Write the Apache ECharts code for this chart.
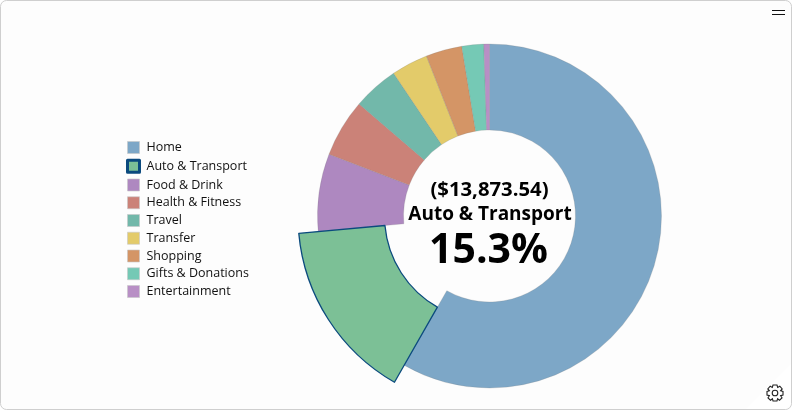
<!DOCTYPE html>
<html><head><meta charset="utf-8">
<style>html,body{margin:0;padding:0;background:#fff}#c{width:792px;height:410px}</style>
<script src="https://cdn.jsdelivr.net/npm/echarts@6/dist/echarts.min.js"></script>
</head><body><div id="c"></div>
<script>
const categories = ["Home","Auto & Transport","Food & Drink","Health & Fitness","Travel","Transfer","Shopping","Gifts & Donations","Entertainment"];
const amounts = [52860,13873.54,6620,4940,3890,3120,3080,1860,480];
const colors = ["#7da7c7","#7cc096","#ae88c0","#cb8278","#72b8aa","#e3cb6a","#d49566","#75c9b5","#b88fc5"];
const selectedIndex = 1;
const selectedBorder = "#0b4a7e";
const FONT = '"Open Sans","Noto Sans",sans-serif';

const total = amounts.reduce((a,b)=>a+b,0);
const selAmount = "($" + amounts[selectedIndex].toLocaleString("en-US",{minimumFractionDigits:2}) + ")";
const selPct = (amounts[selectedIndex]/total*100).toFixed(1) + "%";

const chart = echarts.init(document.getElementById("c"),null,{renderer:"canvas"});
const gearPts = [[-2,-8],[2,-8],[2.7,-5.6],[4.8,-6.8],[7.2,-4.1],[5.6,-2.2],[8,-1.6],[8,2],[5.6,2.6],[7,4.8],[4.5,7.2],[2.6,5.7],[2,8],[-2,8],[-2.6,5.7],[-4.5,7.2],[-7,4.8],[-5.6,2.6],[-8,2],[-8,-1.6],[-5.6,-2.2],[-7.2,-4.1],[-4.8,-6.8],[-2.7,-5.6]];
chart.setOption({
  animation:false,
  backgroundColor:"#ffffff",
  graphic:[
    {type:"rect",z:-10,shape:{x:0.5,y:0.5,width:791,height:409,r:6},style:{fill:"#fdfdfd",stroke:"#cfcfcf",lineWidth:1}},
    {type:"polygon",z:-9,shape:{points:[[746,409],[791,364],[791,404],[786,409]]},style:{fill:"#ffffff"}},
    {type:"line",shape:{x1:772,y1:10.5,x2:785,y2:10.5},style:{stroke:"#111",lineWidth:1}},
    {type:"line",shape:{x1:772,y1:14.5,x2:785,y2:14.5},style:{stroke:"#111",lineWidth:1}},
    {type:"polygon",x:775,y:393,shape:{points:gearPts},style:{fill:"none",stroke:"#222",lineWidth:1.1}},
    {type:"circle",shape:{cx:775,cy:393,r:2.8},style:{fill:"none",stroke:"#222",lineWidth:1.1}},
    {type:"text",z:20,x:489.5,y:190,style:{text:selAmount,font:"bold 20.3px "+FONT,fill:"#000",align:"center",verticalAlign:"middle"}},
    {type:"text",z:20,x:490,y:215,style:{text:categories[selectedIndex],font:"bold 19px "+FONT,fill:"#000",align:"center",verticalAlign:"middle"}},
    {type:"text",z:20,x:488.5,y:251.5,style:{text:selPct,font:"bold 41px "+FONT,fill:"#000",align:"center",verticalAlign:"middle"}}
  ],
  legend:{
    orient:"vertical",left:126,top:141,itemWidth:12,itemHeight:12,itemGap:4.75,padding:0,icon:"rect",
    selectedMode:false,
    textStyle:{fontFamily:FONT,fontSize:12.5,color:"#111",padding:[0,0,0,2]},
    data:categories.map((n,i)=>({name:n,itemStyle:i===selectedIndex
      ?{color:colors[i],borderColor:selectedBorder,borderWidth:3}
      :{color:colors[i],borderColor:"#c8c8c8",borderWidth:0.6}}))
  },
  series:[
    {type:"pie",center:[489.5,216],radius:[86,172],startAngle:90,clockwise:true,silent:true,label:{show:false},labelLine:{show:false},
     data:categories.map((n,i)=>({name:n,value:amounts[i],itemStyle:i===selectedIndex
       ?{color:"transparent",borderWidth:0}
       :{color:colors[i],borderColor:"rgba(120,120,120,0.35)",borderWidth:0.6}}))},
    {type:"pie",center:[489.5,216],radius:[105,191.5],startAngle:90,clockwise:true,silent:true,z:5,label:{show:false},labelLine:{show:false},
     data:categories.map((n,i)=>({name:n,value:amounts[i],itemStyle:i===selectedIndex
       ?{color:colors[i],borderColor:selectedBorder,borderWidth:1.3}
       :{color:"transparent",borderWidth:0}}))}
  ]
});
</script></body></html>
